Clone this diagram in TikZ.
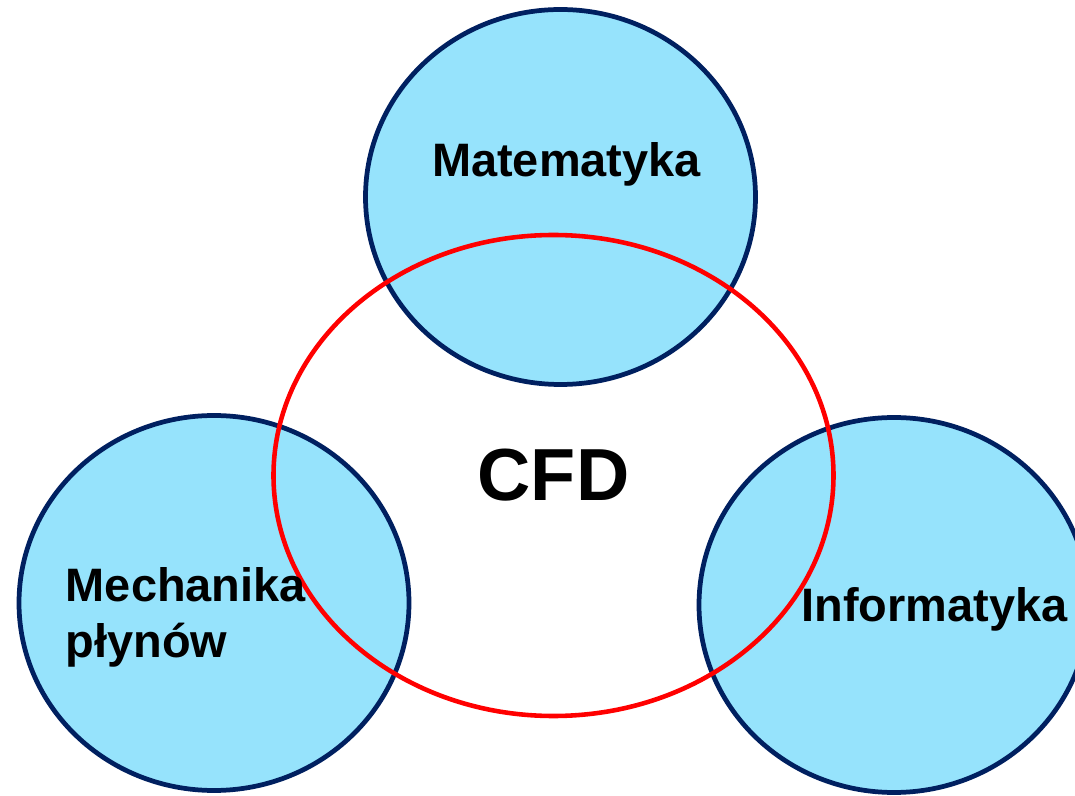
\documentclass[tikz,border=0pt]{standalone}
\usepackage{fontspec}
\setmainfont{Liberation Sans}
\usetikzlibrary{shapes.geometric} % For the ellipse shape
\definecolor{fieldfill}{RGB}{150,227,252}
\definecolor{fieldline}{RGB}{0,32,96}
\tikzstyle{field} = [ellipse, draw=fieldline, fill=fieldfill, line width=2.7pt, minimum width=7.8cm, minimum height=7.5cm, inner sep=0pt]
\tikzstyle{core} = [ellipse, draw=red, line width=2.6pt, minimum width=11.2cm, minimum height=9.62cm, inner sep=0pt, font=\fontsize{42}{50}\selectfont\bfseries]
\tikzstyle{caption} = [anchor=base, inner sep=0pt, font=\fontsize{26.7}{32.4}\selectfont\bfseries]

\begin{document}
\begin{tikzpicture}
  \useasboundingbox (0,0) rectangle (21.5,15.9);

  \node (mat) [field] at (11.21, 11.96) {};
  \node (mech) [field] at (4.28, 3.84) {};
  \node (inf) [field] at (17.88, 3.80) {};

  \node (cfd) [core] at (11.07, 6.39) {CFD};

  \node (mat_text) [caption] at (11.33, 12.37) {Matematyka};
  \node (mech_text) [caption, anchor=base west, align=left] at (1.31, 2.74) {Mechanika\\płynów}; % base is the last line
  \node (inf_text) [caption, anchor=base west] at (16.02, 3.47) {Informatyka};
\end{tikzpicture}
\end{document}
